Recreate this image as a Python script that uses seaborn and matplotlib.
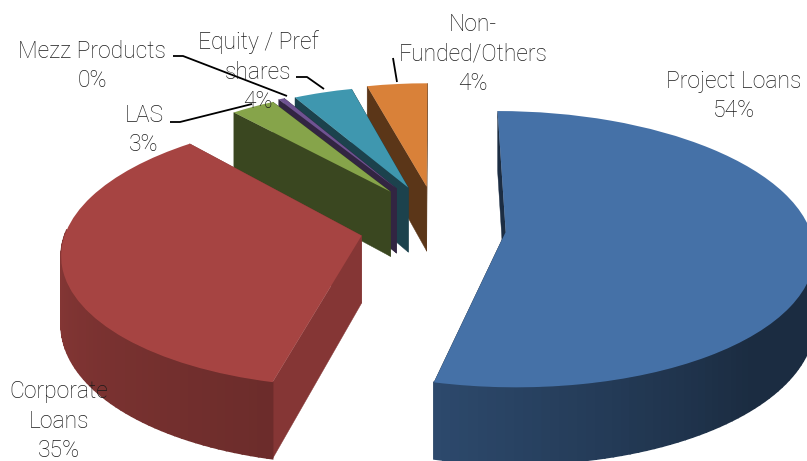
import numpy as np
import matplotlib
matplotlib.use("Agg")
import matplotlib.pyplot as plt
import matplotlib.transforms as mtrans
import seaborn as sns

# Portfolio split
categories = ["Project Loans", "Corporate\nLoans", "LAS", "Mezz Products",
              "Equity / Pref\nshares", "Non-\nFunded/Others"]
shares = [54, 35, 3, 0.4, 4, 4]
explode = [0.24, 0.24, 0.28, 0.29, 0.29, 0.30]
radius_scale = [1.0, 0.97, 0.90, 0.90, 0.90, 0.92]
nudge_x = [0.0, 0.0, 0.018, 0.018, 0.022, 0.016]
nudge_y = [0.0, 0.0, 0.05, 0.05, 0.04, 0.02]
top_colors = ["#4571A7", "#A64442", "#86A44A", "#6F5392", "#3F97AF", "#D98139"]
edge_shade = [0.40, 0.80, 0.43, 0.45, 0.44, 0.42]
paint_rank = [5, 4, 3, 2, 1, 0]  # blue in front, orange at the back

label_xy = [(734, 96), (59, 421), (144, 130), (92, 66), (258, 72), (473, 54)]
leaders = [
    [(173, 56), (183, 56), (287, 96)],
    [(170, 122), (180, 122), (252, 104)],
    [(296, 77), (307, 77), (324, 89)],
    [(393, 58), (397, 82)],
]

# Perspective of the tilted disc
CX, CY, RX, RY, PERSP, DEPTH = 433.0, 228.0, 304.0, 135.0, 0.125, 67.0


def project(x, y, drop=0.0):
    """Map disc coordinates to screen pixels; drop pushes points down the wall."""
    w = 1.0 + PERSP * np.asarray(y)
    return CX + RX * np.asarray(x) / w, CY - RY * np.asarray(y) / w + drop * DEPTH / w


class TiltTransform(mtrans.Transform):
    input_dims = output_dims = 2
    is_separable = False
    has_inverse = False

    def transform_non_affine(self, values):
        values = np.asarray(values)
        sx, sy = project(values[:, 0], values[:, 1])
        return np.column_stack([sx, sy])


def wall_shade(theta):
    """Brightness of the outer wall as it turns around the disc."""
    return np.interp(theta % 360, [0, 180, 256, 315, 360],
                     [0.39, 0.82, 0.65, 0.39, 0.39])


sns.set_theme(style="white")
plt.rcParams["font.family"] = ["Roboto", "DejaVu Sans"]
palette = sns.color_palette(top_colors)

fig, ax = plt.subplots(figsize=(8.07, 4.61), dpi=100)
fig.subplots_adjust(0, 0, 1, 1)

wedges, _ = ax.pie(shares, startangle=90, counterclock=False, explode=explode,
                   colors=palette, radius=1.0, frame=False,
                   wedgeprops={"linewidth": 0})
ax.set_aspect("auto")
ax.set_xlim(0, 807)
ax.set_ylim(461, 0)
ax.axis("off")

tilt = TiltTransform() + ax.transData
for wedge, color, shade, rank, scale, nx, ny in zip(
        wedges, palette, edge_shade, paint_rank, radius_scale, nudge_x, nudge_y):
    base = np.array(color)
    wedge.set_radius(scale)
    wedge.set_center((wedge.center[0] + nx, wedge.center[1] + ny))
    wedge.set_transform(tilt)
    wedge.set_zorder(10 * rank + 2)
    wedge.set_clip_on(False)
    (x0, y0), r = wedge.center, wedge.r

    # radial walls
    for theta in (wedge.theta1, wedge.theta2):
        ox = x0 + r * np.cos(np.radians(theta))
        oy = y0 + r * np.sin(np.radians(theta))
        xs = [x0, ox, ox, x0]
        ys = [y0, oy, oy, y0]
        drops = [0, 0, 1, 1]
        px, py = zip(*[project(a, b, d) for a, b, d in zip(xs, ys, drops)])
        ax.fill(px, py, color=base * shade, lw=0.3, zorder=10 * rank)

    # outer wall on the near half only, in narrow strips so its brightness can vary
    angles = np.arange(wedge.theta1, wedge.theta2 + 1.5, 1.5)
    angles = np.clip(angles, wedge.theta1, wedge.theta2)
    for a, b in zip(angles[:-1], angles[1:]):
        if np.sin(np.radians((a + b) / 2)) > 0.05:
            continue
        ax_, ay_ = x0 + r * np.cos(np.radians(a)), y0 + r * np.sin(np.radians(a))
        bx_, by_ = x0 + r * np.cos(np.radians(b)), y0 + r * np.sin(np.radians(b))
        corners = [(ax_, ay_, 0), (bx_, by_, 0), (bx_, by_, 1), (ax_, ay_, 1)]
        px, py = zip(*[project(*c) for c in corners])
        ax.fill(px, py, color=base * wall_shade((a + b) / 2), lw=1.2,
                zorder=10 * rank + 1)

for pts in leaders:
    xs, ys = zip(*pts)
    ax.plot(xs, ys, color="black", lw=1.3, zorder=100, solid_capstyle="butt")

for name, share, (lx, ly) in zip(categories, shares, label_xy):
    ax.text(lx, ly, f"{name}\n{share:.0f}%", ha="center", va="center",
            fontsize=16.5, fontweight="light", color="#1a1a1a", linespacing=1.36,
            zorder=110)

fig.savefig("out.png", dpi=100)
